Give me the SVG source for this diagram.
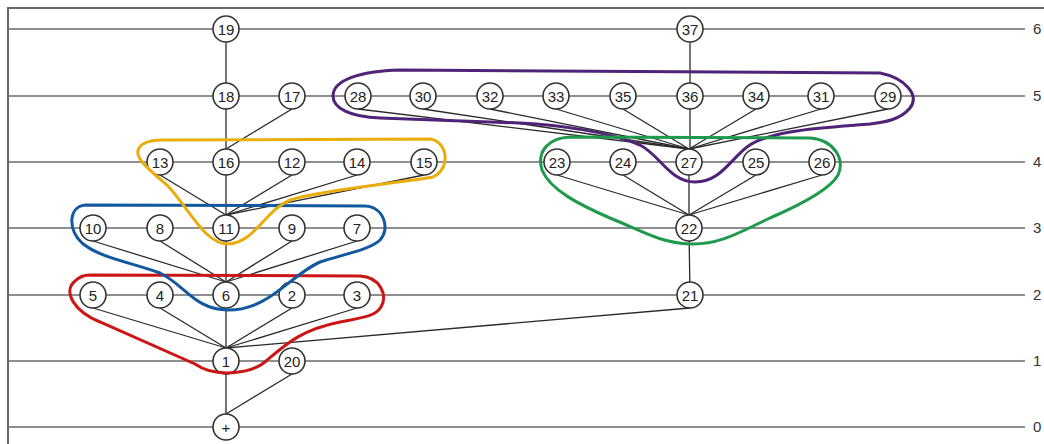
<svg xmlns="http://www.w3.org/2000/svg" width="1044" height="444" viewBox="0 0 1044 444">
<style>
.lvl{stroke:#6a6a6a;stroke-width:1.6;fill:none}
.e{stroke:#2a2a2a;stroke-width:1.3;fill:none}
.n circle{fill:#fff;stroke:#333;stroke-width:1.6}
.n text{font-family:"Liberation Sans",Arial,sans-serif;font-size:15px;fill:#222;text-anchor:middle;dominant-baseline:central}
.lab{font-family:"Liberation Sans",Arial,sans-serif;font-size:15px;fill:#333}
.loop{fill:none;stroke-width:3}
</style>
<rect width="1044" height="444" fill="#fff"/>
<path d="M8,444 V8 H1044" stroke="#666" stroke-width="2" fill="none"/>
<g id="levels">
<line class="lvl" x1="8" y1="29" x2="1025" y2="29"/>
<line class="lvl" x1="8" y1="96" x2="1025" y2="96"/>
<line class="lvl" x1="8" y1="162" x2="1025" y2="162"/>
<line class="lvl" x1="8" y1="228" x2="1025" y2="228"/>
<line class="lvl" x1="8" y1="295" x2="1025" y2="295"/>
<line class="lvl" x1="8" y1="361" x2="1025" y2="361"/>
<line class="lvl" x1="8" y1="427" x2="1025" y2="427"/>
<text class="lab" x="1033" y="34">6</text>
<text class="lab" x="1033" y="101">5</text>
<text class="lab" x="1033" y="167">4</text>
<text class="lab" x="1033" y="233">3</text>
<text class="lab" x="1033" y="300">2</text>
<text class="lab" x="1033" y="366">1</text>
<text class="lab" x="1033" y="432">0</text>
</g>
<g id="connectors">
<line class="e" x1="226" y1="29" x2="226" y2="96"/>
<line class="e" x1="226" y1="96" x2="226" y2="162"/>
<line class="e" x1="292" y1="109" x2="226" y2="149"/>
<line class="e" x1="226" y1="162" x2="226" y2="228"/>
<line class="e" x1="160" y1="175" x2="226" y2="215"/>
<line class="e" x1="292" y1="175" x2="226" y2="215"/>
<line class="e" x1="357" y1="175" x2="226" y2="215"/>
<line class="e" x1="424" y1="175" x2="226" y2="215"/>
<line class="e" x1="226" y1="228" x2="226" y2="295"/>
<line class="e" x1="93" y1="241" x2="226" y2="282"/>
<line class="e" x1="160" y1="241" x2="226" y2="282"/>
<line class="e" x1="292" y1="241" x2="226" y2="282"/>
<line class="e" x1="357" y1="241" x2="226" y2="282"/>
<line class="e" x1="226" y1="295" x2="226" y2="361"/>
<line class="e" x1="93" y1="308" x2="226" y2="348"/>
<line class="e" x1="160" y1="308" x2="226" y2="348"/>
<line class="e" x1="292" y1="308" x2="226" y2="348"/>
<line class="e" x1="357" y1="308" x2="226" y2="348"/>
<line class="e" x1="690" y1="308" x2="226" y2="348"/>
<line class="e" x1="226" y1="361" x2="226" y2="427"/>
<line class="e" x1="292" y1="374" x2="226" y2="414"/>
<line class="e" x1="690" y1="29" x2="690" y2="96"/>
<line class="e" x1="690" y1="96" x2="690" y2="162"/>
<line class="e" x1="358" y1="109" x2="689" y2="149"/>
<line class="e" x1="423" y1="109" x2="689" y2="149"/>
<line class="e" x1="490" y1="109" x2="689" y2="149"/>
<line class="e" x1="556" y1="109" x2="689" y2="149"/>
<line class="e" x1="623" y1="109" x2="689" y2="149"/>
<line class="e" x1="756" y1="109" x2="689" y2="149"/>
<line class="e" x1="821" y1="109" x2="689" y2="149"/>
<line class="e" x1="888" y1="109" x2="689" y2="149"/>
<line class="e" x1="689" y1="162" x2="689" y2="228"/>
<line class="e" x1="557" y1="175" x2="689" y2="215"/>
<line class="e" x1="623" y1="175" x2="689" y2="215"/>
<line class="e" x1="756" y1="175" x2="689" y2="215"/>
<line class="e" x1="822" y1="175" x2="689" y2="215"/>
<line class="e" x1="689" y1="228" x2="690" y2="295"/>
</g>
<g id="nodes">
<g class="n" id="n19"><circle cx="226" cy="29" r="13"/><text x="226" y="29">19</text></g>
<g class="n" id="n18"><circle cx="226" cy="96" r="13"/><text x="226" y="96">18</text></g>
<g class="n" id="n17"><circle cx="292" cy="96" r="13"/><text x="292" y="96">17</text></g>
<g class="n" id="n13"><circle cx="160" cy="162" r="13"/><text x="160" y="162">13</text></g>
<g class="n" id="n16"><circle cx="226" cy="162" r="13"/><text x="226" y="162">16</text></g>
<g class="n" id="n12"><circle cx="292" cy="162" r="13"/><text x="292" y="162">12</text></g>
<g class="n" id="n14"><circle cx="357" cy="162" r="13"/><text x="357" y="162">14</text></g>
<g class="n" id="n15"><circle cx="424" cy="162" r="13"/><text x="424" y="162">15</text></g>
<g class="n" id="n10"><circle cx="93" cy="228" r="13"/><text x="93" y="228">10</text></g>
<g class="n" id="n8"><circle cx="160" cy="228" r="13"/><text x="160" y="228">8</text></g>
<g class="n" id="n11"><circle cx="226" cy="228" r="13"/><text x="226" y="228">11</text></g>
<g class="n" id="n9"><circle cx="292" cy="228" r="13"/><text x="292" y="228">9</text></g>
<g class="n" id="n7"><circle cx="357" cy="228" r="13"/><text x="357" y="228">7</text></g>
<g class="n" id="n5"><circle cx="93" cy="295" r="13"/><text x="93" y="295">5</text></g>
<g class="n" id="n4"><circle cx="160" cy="295" r="13"/><text x="160" y="295">4</text></g>
<g class="n" id="n6"><circle cx="226" cy="295" r="13"/><text x="226" y="295">6</text></g>
<g class="n" id="n2"><circle cx="292" cy="295" r="13"/><text x="292" y="295">2</text></g>
<g class="n" id="n3"><circle cx="357" cy="295" r="13"/><text x="357" y="295">3</text></g>
<g class="n" id="n1"><circle cx="226" cy="361" r="13"/><text x="226" y="361">1</text></g>
<g class="n" id="n20"><circle cx="292" cy="361" r="13"/><text x="292" y="361">20</text></g>
<g class="n" id="nplus"><circle cx="226" cy="427" r="13"/><text x="226" y="427">+</text></g>
<g class="n" id="n37"><circle cx="690" cy="29" r="13"/><text x="690" y="29">37</text></g>
<g class="n" id="n28"><circle cx="358" cy="96" r="13"/><text x="358" y="96">28</text></g>
<g class="n" id="n30"><circle cx="423" cy="96" r="13"/><text x="423" y="96">30</text></g>
<g class="n" id="n32"><circle cx="490" cy="96" r="13"/><text x="490" y="96">32</text></g>
<g class="n" id="n33"><circle cx="556" cy="96" r="13"/><text x="556" y="96">33</text></g>
<g class="n" id="n35"><circle cx="623" cy="96" r="13"/><text x="623" y="96">35</text></g>
<g class="n" id="n36"><circle cx="690" cy="96" r="13"/><text x="690" y="96">36</text></g>
<g class="n" id="n34"><circle cx="756" cy="96" r="13"/><text x="756" y="96">34</text></g>
<g class="n" id="n31"><circle cx="821" cy="96" r="13"/><text x="821" y="96">31</text></g>
<g class="n" id="n29"><circle cx="888" cy="96" r="13"/><text x="888" y="96">29</text></g>
<g class="n" id="n23"><circle cx="557" cy="162" r="13"/><text x="557" y="162">23</text></g>
<g class="n" id="n24"><circle cx="623" cy="162" r="13"/><text x="623" y="162">24</text></g>
<g class="n" id="n27"><circle cx="689" cy="162" r="13"/><text x="689" y="162">27</text></g>
<g class="n" id="n25"><circle cx="756" cy="162" r="13"/><text x="756" y="162">25</text></g>
<g class="n" id="n26"><circle cx="822" cy="162" r="13"/><text x="822" y="162">26</text></g>
<g class="n" id="n22"><circle cx="689" cy="228" r="13"/><text x="689" y="228">22</text></g>
<g class="n" id="n21"><circle cx="690" cy="295" r="13"/><text x="690" y="295">21</text></g>
</g>
<g id="groups">
<path class="loop" stroke="#cc1515" d="M90,275 L360,276 C380,277 388,295 381,307 C375,317 360,318 340,322 C300,330 285,345 265,362 C250,374 215,378 195,364 L100,322 C75,312 62,292 75,281 C80,276 85,275 90,275 Z"/>
<path class="loop" stroke="#11589f" d="M85,205 L365,206 C385,207 390,230 380,240 C370,250 340,255 320,262 C290,275 270,310 228,310 C195,310 185,285 160,273 C130,262 100,258 82,243 C68,230 68,207 85,205 Z"/>
<path class="loop" stroke="#e9ad0c" d="M162,140 L430,139 C447,141 452,168 433,177 C400,183 320,190 290,200 C265,210 255,243 228,244 C205,244 190,210 168,186 C150,170 133,158 139,148 C143,142 150,140 162,140 Z"/>
<path class="loop" stroke="#4e2378" d="M400,70 L880,73 C905,78 920,95 910,108 C900,120 885,122 870,124 C820,128 770,130 747,147 C730,160 720,182 695,182 C670,182 660,155 640,145 C610,132 560,125 520,123 L380,118 C350,117 333,108 333,96 C333,80 360,71 400,70 Z"/>
<path class="loop" stroke="#1f9a4c" d="M570,137 L810,138 C835,140 845,160 838,175 C830,190 800,205 770,218 C740,232 720,245 690,244 C660,243 640,230 610,218 C580,205 550,190 542,170 C536,150 550,138 570,137 Z"/>
</g>
</svg>
